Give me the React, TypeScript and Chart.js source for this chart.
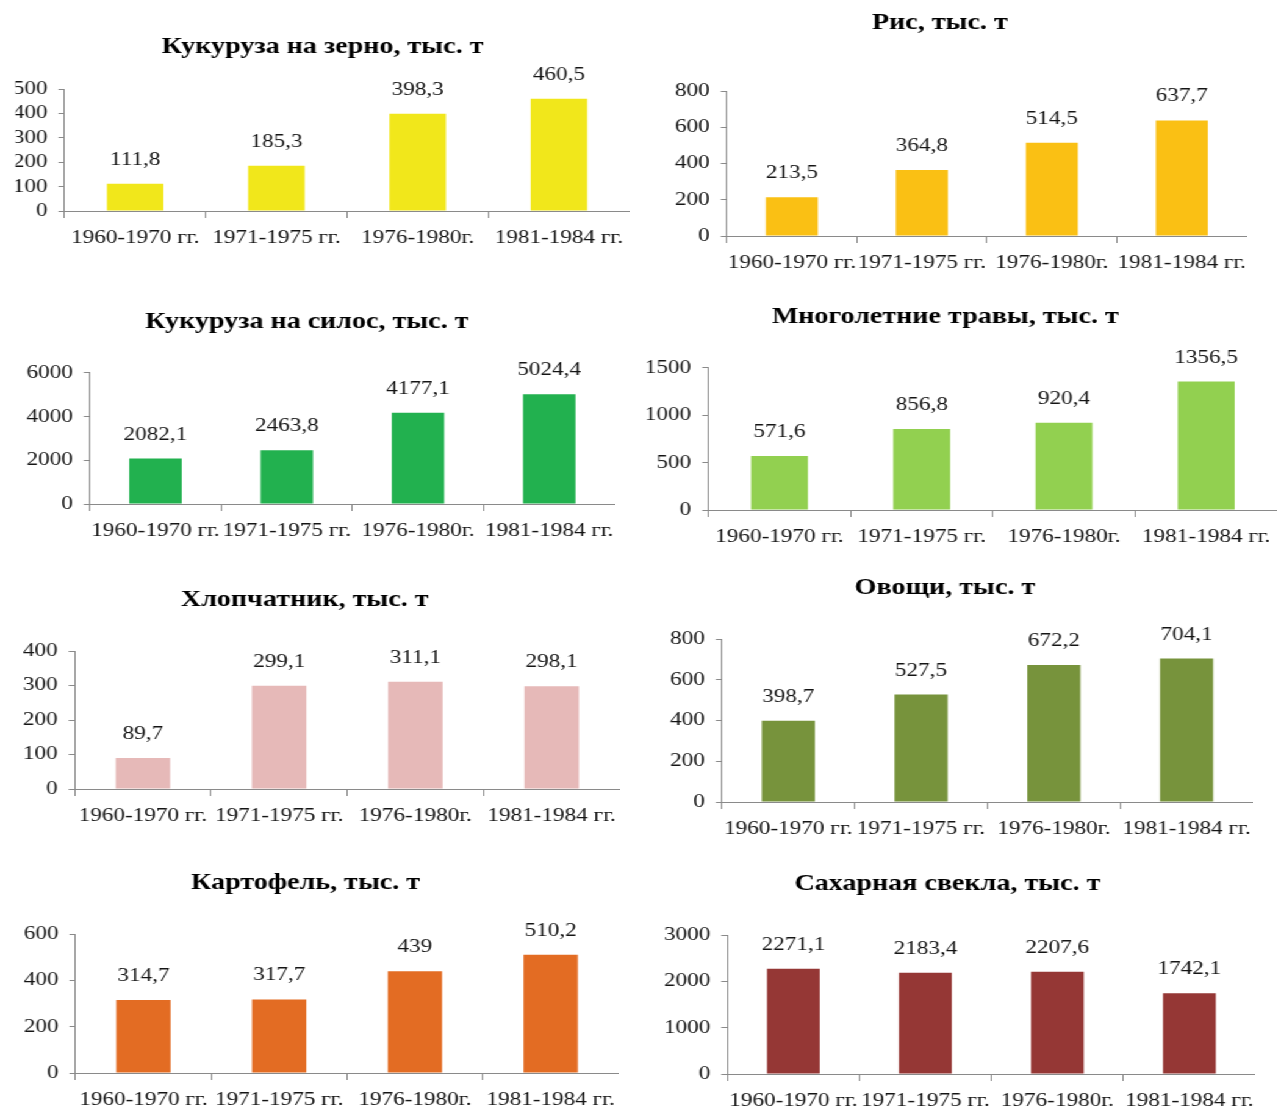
import React, { useEffect, useRef } from 'react';
import Chart from 'chart.js/auto';

// categories shared by every panel
const periods = ['1960-1970 гг.', '1971-1975 гг.', '1976-1980г.', '1981-1984 гг.'];

// series values, тыс. т
const cornGrain = [111.8, 185.3, 398.3, 460.5];
const rice = [213.5, 364.8, 514.5, 637.7];
const cornSilage = [2082.1, 2463.8, 4177.1, 5024.4];
const grasses = [571.6, 856.8, 920.4, 1356.5];
const cotton = [89.7, 299.1, 311.1, 298.1];
const vegetables = [398.7, 527.5, 672.2, 704.1];
const potatoes = [314.7, 317.7, 439, 510.2];
const sugarBeet = [2271.1, 2183.4, 2207.6, 1742.1];

// y axis: max and step for each panel
const axisMax = [500, 800, 6000, 1500, 400, 800, 600, 3000];
const axisStep = [100, 200, 2000, 500, 100, 200, 200, 1000];

const titles = [
  'Кукуруза на зерно, тыс. т',
  'Рис, тыс. т',
  'Кукуруза на силос, тыс. т',
  'Многолетние травы, тыс. т',
  'Хлопчатник, тыс. т',
  'Овощи, тыс. т',
  'Картофель, тыс. т',
  'Сахарная свекла, тыс. т',
];
const seriesList = [cornGrain, rice, cornSilage, grasses, cotton, vegetables, potatoes, sugarBeet];
const colors = ['#F1E71B', '#FAC014', '#22B14F', '#92D050', '#E6B9B8', '#77933C', '#E36C23', '#953735'];

// page placement of each panel (page px): plot box and title centre
const frames = [
  { plotLeft: 64, plotRight: 629, plotTop: 89, plotBottom: 211, titleX: 322, titleY: 47 },
  { plotLeft: 727, plotRight: 1247, plotTop: 91, plotBottom: 236, titleX: 940, titleY: 23 },
  { plotLeft: 90, plotRight: 615, plotTop: 373, plotBottom: 504, titleX: 307, titleY: 322 },
  { plotLeft: 708, plotRight: 1277, plotTop: 368, plotBottom: 510, titleX: 945, titleY: 317 },
  { plotLeft: 75, plotRight: 620, plotTop: 651, plotBottom: 789, titleX: 305, titleY: 600 },
  { plotLeft: 722, plotRight: 1253, plotTop: 639, plotBottom: 802, titleX: 945, titleY: 588 },
  { plotLeft: 75, plotRight: 618, plotTop: 934, plotBottom: 1073, titleX: 305, titleY: 883 },
  { plotLeft: 727, plotRight: 1255, plotTop: 935, plotBottom: 1074, titleX: 947, titleY: 884 },
];

// the source picture is stretched horizontally
const STRETCH = 1.22;
const FONT = "'Liberation Serif', 'Times New Roman', serif";
const TEXT = '#141414';
const AXIS = '#8a8a8a';
const TICK_SIZE = 19;
const X_AXIS_H = 36;
const TITLE_LINE = 23 * 1.2;

const valueLabels = {
  id: 'valueLabels',
  afterDatasetsDraw(chart: any) {
    const { ctx } = chart;
    const meta = chart.getDatasetMeta(0);
    const data = chart.data.datasets[0].data as number[];
    ctx.save();
    ctx.font = `${TICK_SIZE}px ${FONT}`;
    ctx.fillStyle = TEXT;
    ctx.textAlign = 'center';
    ctx.textBaseline = 'middle';
    meta.data.forEach((bar: any, i: number) => {
      ctx.fillText(String(data[i]).replace('.', ','), bar.x, bar.y - 24);
    });
    ctx.restore();
  },
};

interface PanelProps {
  index: number;
}

const BarPanel: React.FC<PanelProps> = ({ index }) => {
  const canvasRef = useRef<HTMLCanvasElement | null>(null);
  const chartInstance = useRef<Chart | null>(null);
  const f = frames[index];

  // horizontal geometry in unstretched px
  const boxLeft = 2 * f.titleX - f.plotRight;
  const leftReal = Math.min(boxLeft, f.plotLeft - 75);
  const width = Math.round((f.plotRight - leftReal) / STRETCH);
  const canvasLeft = f.plotRight / STRETCH - width;
  const padLeft = boxLeft / STRETCH - canvasLeft;
  const yAxisW = (f.plotLeft - boxLeft) / STRETCH;

  // vertical geometry (not stretched)
  const canvasTop = Math.floor(f.titleY - TITLE_LINE / 2);
  const height = Math.round(f.plotBottom + X_AXIS_H - canvasTop);
  const titlePadTop = f.titleY - TITLE_LINE / 2 - canvasTop;
  const titlePadBottom = f.plotTop - (f.titleY + TITLE_LINE / 2);

  useEffect(() => {
    if (!canvasRef.current) return;
    const ctx = canvasRef.current.getContext('2d');
    if (!ctx) return;

    chartInstance.current = new Chart(ctx, {
      type: 'bar',
      data: {
        labels: periods,
        datasets: [
          {
            data: seriesList[index],
            backgroundColor: colors[index],
            borderWidth: 0,
            barPercentage: 0.4,
            categoryPercentage: 1,
          },
        ],
      },
      options: {
        animation: false,
        responsive: false,
        layout: { padding: { left: padLeft, right: 0, top: 0, bottom: 0 } },
        plugins: {
          legend: { display: false },
          tooltip: { enabled: false },
          title: {
            display: true,
            text: titles[index],
            color: '#000',
            font: { family: FONT, size: 23, weight: 'bold', lineHeight: 1.2 },
            padding: { top: titlePadTop, bottom: titlePadBottom },
          },
        },
        scales: {
          x: {
            grid: { drawOnChartArea: false, drawTicks: true, tickLength: 7, color: AXIS, offset: true },
            border: { color: AXIS },
            ticks: { font: { family: FONT, size: TICK_SIZE, lineHeight: 1.1 }, color: TEXT, padding: 10, maxRotation: 0, autoSkip: false },
            afterFit: (scale: any) => {
              scale.height = X_AXIS_H;
              scale.paddingLeft = 0;
              scale.paddingRight = 0;
            },
          },
          y: {
            min: 0,
            max: axisMax[index],
            grid: { drawOnChartArea: false, drawTicks: true, tickLength: 5, color: AXIS },
            border: { color: AXIS },
            ticks: {
              stepSize: axisStep[index],
              autoSkip: false,
              font: { family: FONT, size: TICK_SIZE, lineHeight: 1 },
              color: TEXT,
              padding: 9,
              callback: (v: any) => String(v),
            },
            afterFit: (scale: any) => {
              scale.width = yAxisW;
              scale.paddingTop = 0;
              scale.paddingBottom = 0;
            },
          },
        },
      },
      plugins: [valueLabels],
    } as any);

    return () => {
      if (chartInstance.current) {
        chartInstance.current.destroy();
        chartInstance.current = null;
      }
    };
  }, [index]);

  return (
    <div style={{ position: 'absolute', left: canvasLeft, top: canvasTop, width, height }}>
      <canvas ref={canvasRef} width={width} height={height} />
    </div>
  );
};

const App: React.FC = () => {
  return (
    <div
      style={{
        position: 'absolute',
        left: 0,
        top: 0,
        width: 1281 / STRETCH,
        height: 1110,
        overflow: 'hidden',
        background: '#fff',
        transform: `scaleX(${STRETCH})`,
        transformOrigin: '0 0',
      }}
    >
      {titles.map((t, i) => (
        <BarPanel key={t} index={i} />
      ))}
    </div>
  );
};

export default App;
